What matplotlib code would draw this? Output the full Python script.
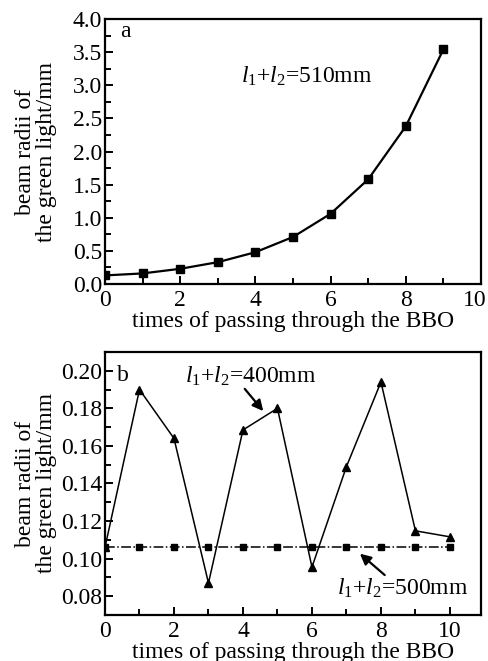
import matplotlib
matplotlib.use("Agg")
import matplotlib.pyplot as plt
import matplotlib.transforms as mtransforms
from matplotlib.ticker import MultipleLocator

plt.rcParams['font.family'] = ['Liberation Serif', 'DejaVu Serif']
plt.rcParams['mathtext.fontset'] = 'custom'
plt.rcParams['mathtext.rm'] = 'Liberation Serif'
plt.rcParams['mathtext.it'] = 'Liberation Serif:italic'

# panel a: l1+l2 = 510 mm
passes_a = [0, 1, 2, 3, 4, 5, 6, 7, 8, 9]
radius_a = [0.13, 0.16, 0.23, 0.33, 0.48, 0.71, 1.06, 1.58, 2.38, 3.54]

# panel b
passes_b = [0, 1, 2, 3, 4, 5, 6, 7, 8, 9, 10]
radius_400 = [0.106, 0.190, 0.164, 0.087, 0.1685, 0.180, 0.0955, 0.149, 0.194, 0.1148, 0.1116]
radius_500 = [0.1063] * 11

x_major = [0, 2, 4, 6, 8, 10]

fig = plt.figure(figsize=(4.89, 6.61), dpi=100)
ax1 = fig.add_axes([0.2147, 0.5703, 0.7689, 0.401])
ax2 = fig.add_axes([0.2147, 0.0696, 0.7689, 0.3979])

fs = 17
ylab = 'beam radii of\nthe green light/mm'

for ax in (ax1, ax2):
    for s in ax.spines.values():
        s.set_linewidth(1.6)
    ax.tick_params(which='both', direction='in', top=False, right=False,
                   labelsize=fs, width=1.4)
    ax.tick_params(axis='y', pad=2)
    ax.tick_params(axis='x', pad=4)
    ax.tick_params(which='major', length=6)
    ax.tick_params(which='minor', length=4)
    ax.set_xlabel('times of passing through the BBO', fontsize=fs, labelpad=0)
    ax.set_ylabel(ylab, fontsize=fs, linespacing=1.0)
    ax.yaxis.set_label_coords(-0.128, 0.5)
    ax.set_xticks(x_major)
    ax.xaxis.set_minor_locator(MultipleLocator(1))

ax1.plot(passes_a, radius_a, '-s', color='black', lw=1.6, ms=6)
ax1.set_xlim(0, 10)
ax1.set_ylim(0, 4.0)
ax1.yaxis.set_major_locator(MultipleLocator(0.5))
ax1.yaxis.set_minor_locator(MultipleLocator(0.25))
ax1.yaxis.set_major_formatter(plt.FormatStrFormatter('%.1f'))
ax1.text(0.55, 3.81, 'a', fontsize=fs, ha='center', va='center')
ax1.text(5.36, 3.14, r'$l_1$+$l_2$=510mm', fontsize=fs, ha='center', va='center')

# nudge the "10" label of panel a so it stays inside the figure
lbl = ax1.get_xticklabels()[-1]
lbl.set_transform(lbl.get_transform() + mtransforms.ScaledTranslation(-6 / 100, 0, fig.dpi_scale_trans))

ax2.plot(passes_b, radius_400, '-^', color='black', lw=1.1, ms=6)
ax2.plot(passes_b, radius_500, '-.s', color='black', lw=1.1, ms=5)
ax2.set_xlim(0, 10.9)
ax2.set_ylim(0.07, 0.21)
ax2.yaxis.set_major_locator(MultipleLocator(0.02))
ax2.yaxis.set_minor_locator(MultipleLocator(0.01))
ax2.yaxis.set_major_formatter(plt.FormatStrFormatter('%.2f'))
ax2.text(0.53, 0.1975, 'b', fontsize=fs, ha='center', va='center')
ax2.text(4.22, 0.197, r'$l_1$+$l_2$=400mm', fontsize=fs, ha='center', va='center')
ax2.text(8.64, 0.0843, r'$l_1$+$l_2$=500mm', fontsize=fs, ha='center', va='center')
ax2.annotate('', xy=(4.64, 0.1774), xytext=(4.0, 0.1915),
             arrowprops=dict(arrowstyle='-|>', color='black', lw=1.6, mutation_scale=16))
ax2.annotate('', xy=(7.33, 0.1036), xytext=(8.17, 0.0903),
             arrowprops=dict(arrowstyle='-|>', color='black', lw=1.6, mutation_scale=16))

fig.savefig('out.png', dpi=100)
